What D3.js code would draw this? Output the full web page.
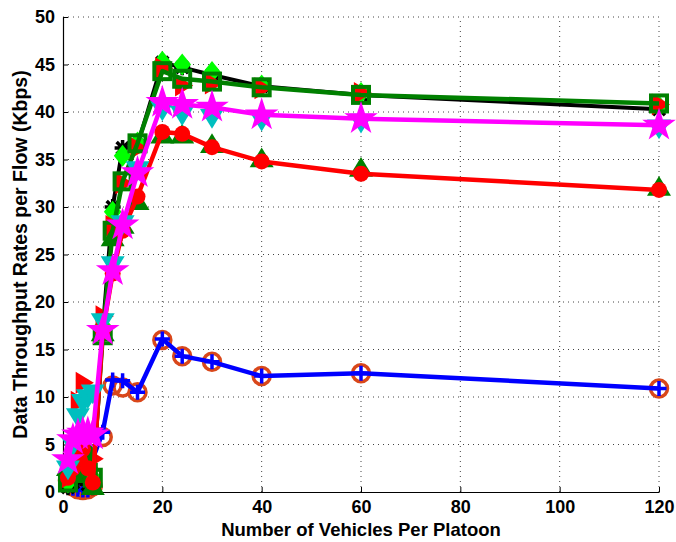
<!DOCTYPE html>
<html><head><meta charset="utf-8">
<script src="https://d3js.org/d3.v7.min.js"></script>
<style>body{margin:0;background:#fff}svg{display:block}text{font-family:"Liberation Sans",Arial,sans-serif;font-weight:bold}</style>
</head><body>
<script>
const xVals = [1, 2, 3, 4, 5, 6, 8, 10, 12, 15, 20, 24, 30, 40, 60, 120];
const xTicks = [0, 20, 40, 60, 80, 100, 120];
const yTicks = [0, 5, 10, 15, 20, 25, 30, 35, 40, 45, 50];
const xLabel = "Number of Vehicles Per Platoon";
const yLabel = "Data Throughput Rates per Flow (Kbps)";

const orangeCircle = [1.2, 0.6, 0.3, 0.2, 0.3, 0.6, 5.8, 11.2, 11.0, 10.5, 16.0, 14.3, 13.7, 12.2, 12.5, 10.9];
const bluePlus     = [0.6, 0.4, 0.3, 0.2, 0.2, 3.5, 6.3, 11.8, 11.7, 10.5, 16.1, 14.3, 13.7, 12.2, 12.5, 10.9];
const blackStar    = [0.5, 1.0, 1.5, 2.0, 0.8, 0.5, 17.0, 30.0, 36.2, 36.5, 45.2, 44.7, 43.9, 42.7, 41.8, 40.3];
const limeDiamond  = [1.0, 2.5, 4.0, 3.0, 2.0, 1.5, 17.5, 29.5, 35.4, 36.8, 45.3, 45.0, 44.2, 42.8, 42.0, 40.6];
const redRight     = [1.5, 3.5, 9.5, 11.5, 3.5, 3.5, 18.5, 28.0, 32.5, 36.2, 44.6, 42.8, 43.0, 42.5, 42.0, 40.8];
const greenSquare  = [1.0, 2.0, 3.0, 4.0, 2.0, 1.5, 16.5, 27.5, 32.7, 36.7, 44.3, 43.5, 43.2, 42.6, 41.8, 40.9];
const greenUp      = [2.5, 3.0, 4.5, 5.0, 3.0, 0.5, 16.7, 26.7, 28.0, 30.5, 37.5, 37.5, 36.5, 35.0, 34.0, 32.0];
const redCircle    = [1.5, 2.5, 3.5, 4.5, 2.5, 1.0, 17.0, 23.0, 27.5, 31.1, 37.9, 37.7, 36.3, 34.8, 33.5, 31.8];
const cyanDown     = [2.5, 5.0, 8.0, 9.5, 10.0, 10.5, 18.0, 24.0, 28.3, 34.0, 40.3, 39.8, 39.5, 39.2, 39.0, 38.4];
const magentaStar  = [3.4, 5.5, 6.0, 6.2, 6.2, 6.0, 17.0, 23.3, 28.1, 33.6, 41.0, 40.8, 40.5, 39.7, 39.3, 38.6];

const W = 676, H = 542;
const svg = d3.select("body").append("svg").attr("width", W).attr("height", H);
const x = d3.scaleLinear().domain([0, 120]).range([63, 659]);
const y = d3.scaleLinear().domain([0, 50]).range([492, 17]);

// grid
const g = svg.append("g");
g.selectAll(".gx").data(xTicks.slice(1)).join("line")
  .attr("x1", d => x(d)).attr("x2", d => x(d)).attr("y1", y(0)).attr("y2", y(50))
  .attr("stroke", "#444").attr("stroke-width", 1).attr("stroke-dasharray", "1,4");
g.selectAll(".gy").data(yTicks.slice(1)).join("line")
  .attr("y1", d => y(d)).attr("y2", d => y(d)).attr("x1", x(0)).attr("x2", x(120))
  .attr("stroke", "#444").attr("stroke-width", 1).attr("stroke-dasharray", "1,4");

// axes
const xAxis = d3.axisBottom(x).tickValues(xTicks).tickSizeInner(-5).tickSizeOuter(0).tickPadding(8);
const yAxis = d3.axisLeft(y).tickValues(yTicks).tickSizeInner(-5).tickSizeOuter(0).tickPadding(8);
const ax = svg.append("g").attr("transform", `translate(0,${y(0)})`).call(xAxis);
const ay = svg.append("g").attr("transform", `translate(${x(0)},0)`).call(yAxis);
[ax, ay].forEach(a => {
  a.select(".domain").attr("stroke", "#000").attr("stroke-width", 1.2);
  a.selectAll(".tick line").attr("stroke", "#000");
  a.selectAll("text").attr("font-size", 18).attr("fill", "#000");
});

const line = d3.line().x((d, i) => x(xVals[i])).y(d => y(d));

function mark(sel, type, color, size) {
  const s = size;
  if (type === "circleHollow") sel.append("circle").attr("r", s).attr("fill", "none").attr("stroke", color).attr("stroke-width", 3.5);
  else if (type === "circleFill") sel.append("circle").attr("r", s).attr("fill", color);
  else if (type === "plus") sel.append("path").attr("d", `M${-s},0H${s}M0,${-s}V${s}`).attr("stroke", color).attr("stroke-width", 3.5).attr("fill", "none");
  else if (type === "star") {
    const k = s * 0.75;
    sel.append("path").attr("d", `M${-s},0H${s}M0,${-s}V${s}M${-k},${-k}L${k},${k}M${-k},${k}L${k},${-k}`).attr("stroke", color).attr("stroke-width", 3.5).attr("fill", "none");
  }
  else if (type === "diamond") sel.append("path").attr("d", `M0,${-s}L${s*0.8},0L0,${s}L${-s*0.8},0Z`).attr("fill", color);
  else if (type === "right") sel.append("path").attr("d", `M${s},0L${-s*0.65},${-s}L${-s*0.65},${s}Z`).attr("fill", color);
  else if (type === "up") sel.append("path").attr("d", `M0,${-s}L${s},${s*0.65}L${-s},${s*0.65}Z`).attr("fill", color);
  else if (type === "down") sel.append("path").attr("d", `M0,${s}L${s},${-s*0.65}L${-s},${-s*0.65}Z`).attr("fill", color);
  else if (type === "square") sel.append("rect").attr("x", -s).attr("y", -s).attr("width", 2*s).attr("height", 2*s).attr("fill", "none").attr("stroke", color).attr("stroke-width", 4);
  else if (type === "penta") sel.append("path").attr("d", d3.symbol(d3.symbolStar, s * s * 2.9)()).attr("fill", color);
}

const series = [
  {v: orangeCircle, c: "#d9471a", m: "circleHollow", s: 8.5, lw: 0},
  {v: bluePlus, c: "#0000ff", m: "plus", s: 7.5, lw: 4.5},
  {v: blackStar, c: "#000000", m: "star", s: 8, lw: 4},
  {v: limeDiamond, c: "#00ff00", m: "diamond", s: 11, lw: 0},
  {v: redRight, c: "#ff0000", m: "right", s: 11, lw: 0},
  {v: greenSquare, c: "#008000", m: "square", s: 8, lw: 4.5},
  {v: greenUp, c: "#008000", m: "up", s: 12, lw: 0},
  {v: redCircle, c: "#ff0000", m: "circleFill", s: 8, lw: 4.5},
  {v: cyanDown, c: "#00bfbf", m: "down", s: 12, lw: 0},
  {v: magentaStar, c: "#ff00ff", m: "penta", s: 11, lw: 4.5}
];

const plot = svg.append("g");
series.forEach(se => {
  if (se.lw > 0) {
    plot.append("path").attr("d", line(se.v)).attr("fill", "none").attr("stroke", se.c)
      .attr("stroke-width", se.lw).attr("stroke-linejoin", "round");
  }
  se.v.forEach((d, i) => {
    const gm = plot.append("g").attr("transform", `translate(${x(xVals[i])},${y(d)})`);
    mark(gm, se.m, se.c, se.s);
  });
});

svg.append("text").attr("x", x(60)).attr("y", 536).attr("text-anchor", "middle").attr("font-size", 18.5).text(xLabel);
svg.append("text").attr("transform", `translate(27,${y(25)}) rotate(-90)`).attr("text-anchor", "middle").attr("font-size", 19.5).text(yLabel);
</script>
</body></html>
